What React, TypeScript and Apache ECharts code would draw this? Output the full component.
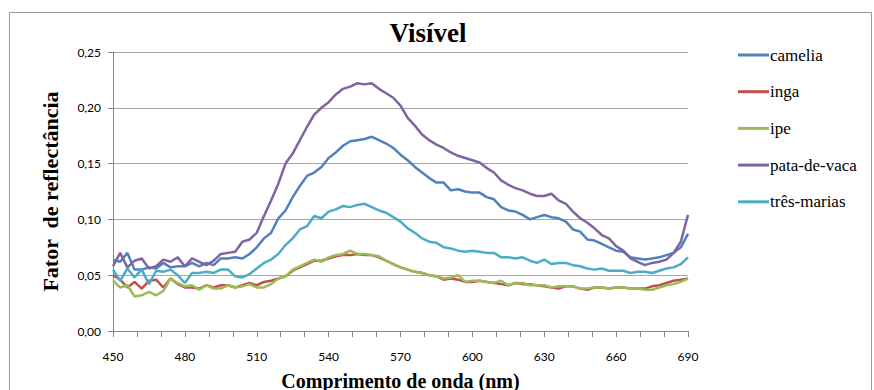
import React, { useEffect, useRef } from "react";
import * as echarts from "echarts";

const wavelengths: number[] = [];
for (let w = 450; w <= 690; w += 3) wavelengths.push(w);

const seriesNames = ["camelia", "inga", "ipe", "pata-de-vaca", "três-marias"];
const seriesColors = ["#4F81BD", "#C0504D", "#9BBB59", "#8064A2", "#4BACC6"];

const camelia = [
  0.064, 0.062, 0.070, 0.055, 0.055, 0.057, 0.056, 0.061, 0.057, 0.058,
  0.058, 0.061, 0.058, 0.061, 0.059, 0.065, 0.065, 0.066, 0.065, 0.069,
  0.075, 0.083, 0.088, 0.101, 0.108, 0.120, 0.130, 0.139, 0.142, 0.147,
  0.155, 0.160, 0.166, 0.170, 0.171, 0.172, 0.174, 0.171, 0.168, 0.164,
  0.158, 0.153, 0.147, 0.142, 0.137, 0.133, 0.133, 0.126, 0.127, 0.125,
  0.124, 0.124, 0.120, 0.118, 0.111, 0.108, 0.107, 0.104, 0.100, 0.102,
  0.104, 0.102, 0.101, 0.098, 0.091, 0.089, 0.082, 0.081, 0.078, 0.075,
  0.072, 0.071, 0.066, 0.065, 0.064, 0.065, 0.066, 0.068, 0.070, 0.075,
  0.087,
];

const inga = [
  0.050, 0.046, 0.039, 0.044, 0.038, 0.045, 0.046, 0.039, 0.047, 0.042,
  0.039, 0.039, 0.038, 0.041, 0.039, 0.041, 0.041, 0.039, 0.041, 0.043,
  0.041, 0.044, 0.045, 0.047, 0.049, 0.054, 0.057, 0.060, 0.063, 0.063,
  0.065, 0.067, 0.068, 0.068, 0.069, 0.068, 0.068, 0.066, 0.063, 0.060,
  0.057, 0.055, 0.053, 0.052, 0.050, 0.049, 0.046, 0.047, 0.046, 0.044,
  0.044, 0.045, 0.044, 0.043, 0.042, 0.041, 0.043, 0.042, 0.042, 0.041,
  0.040, 0.039, 0.038, 0.040, 0.040, 0.038, 0.037, 0.039, 0.039, 0.038,
  0.039, 0.039, 0.038, 0.038, 0.038, 0.040, 0.041, 0.043, 0.045, 0.046,
  0.047,
];

const ipe = [
  0.045, 0.039, 0.041, 0.031, 0.032, 0.035, 0.032, 0.036, 0.047, 0.043,
  0.040, 0.041, 0.037, 0.041, 0.038, 0.038, 0.041, 0.039, 0.040, 0.042,
  0.039, 0.039, 0.042, 0.047, 0.049, 0.055, 0.058, 0.061, 0.064, 0.062,
  0.066, 0.068, 0.069, 0.072, 0.069, 0.069, 0.068, 0.067, 0.063, 0.060,
  0.057, 0.055, 0.053, 0.052, 0.050, 0.049, 0.047, 0.048, 0.050, 0.044,
  0.045, 0.045, 0.044, 0.043, 0.045, 0.041, 0.043, 0.043, 0.041, 0.041,
  0.041, 0.039, 0.040, 0.040, 0.040, 0.038, 0.038, 0.039, 0.039, 0.038,
  0.039, 0.039, 0.038, 0.038, 0.037, 0.037, 0.039, 0.041, 0.042, 0.044,
  0.047,
];

const pataDeVaca = [
  0.058, 0.070, 0.057, 0.063, 0.065, 0.056, 0.058, 0.064, 0.062, 0.066,
  0.058, 0.065, 0.062, 0.059, 0.063, 0.069, 0.070, 0.071, 0.080, 0.082,
  0.088, 0.103, 0.117, 0.132, 0.150, 0.159, 0.171, 0.183, 0.194, 0.200,
  0.205, 0.212, 0.217, 0.219, 0.222, 0.221, 0.222, 0.217, 0.213, 0.209,
  0.202, 0.191, 0.184, 0.176, 0.171, 0.167, 0.164, 0.160, 0.157, 0.155,
  0.153, 0.151, 0.146, 0.142, 0.135, 0.131, 0.128, 0.126, 0.123, 0.121,
  0.121, 0.123, 0.117, 0.114, 0.107, 0.101, 0.097, 0.092, 0.086, 0.083,
  0.076, 0.072, 0.065, 0.062, 0.059, 0.061, 0.062, 0.064, 0.070, 0.080,
  0.104,
];

const tresMarias = [
  0.055, 0.045, 0.056, 0.048, 0.055, 0.042, 0.054, 0.053, 0.055, 0.050,
  0.043, 0.052, 0.052, 0.053, 0.052, 0.055, 0.055, 0.049, 0.048, 0.051,
  0.056, 0.061, 0.064, 0.069, 0.077, 0.083, 0.091, 0.094, 0.103, 0.101,
  0.107, 0.109, 0.112, 0.111, 0.113, 0.114, 0.111, 0.108, 0.106, 0.102,
  0.098, 0.092, 0.088, 0.083, 0.080, 0.079, 0.075, 0.074, 0.072, 0.071,
  0.072, 0.071, 0.070, 0.070, 0.066, 0.066, 0.065, 0.066, 0.063, 0.061,
  0.064, 0.060, 0.061, 0.061, 0.059, 0.058, 0.056, 0.055, 0.056, 0.054,
  0.054, 0.054, 0.052, 0.053, 0.053, 0.052, 0.054, 0.056, 0.057, 0.060,
  0.066,
];

const seriesValues = [camelia, inga, ipe, pataDeVaca, tresMarias];

const titleText = "Visível";
const yAxisTitle = "Fator  de reflectância";
const xAxisTitle = "Comprimento de onda (nm)";

const serif = "Liberation Serif";
const legendFont = "Times New Roman";

export default function App() {
  const ref = useRef<HTMLDivElement>(null);

  useEffect(() => {
    document.body.style.margin = "0";
    if (!ref.current) return;
    const chart = echarts.init(ref.current, null, { renderer: "svg" });
    const axisGray = "#868686";

    const legendTop = 55;
    const legendStep = 36.7;
    const legendLines = seriesNames.map((name, i) => ({
      type: "line",
      shape: {
        x1: 738,
        y1: legendTop + i * legendStep,
        x2: 769,
        y2: legendTop + i * legendStep,
      },
      style: { stroke: seriesColors[i], lineWidth: 3 },
    }));
    const legendTexts = seriesNames.map((name, i) => ({
      type: "text",
      x: 770,
      y: legendTop + i * legendStep,
      style: {
        text: name,
        font: "17px " + legendFont,
        fill: "#000",
        textAlign: "left",
        textVerticalAlign: "middle",
      },
    }));

    chart.setOption({
      animation: false,
      backgroundColor: "#ffffff",
      graphic: [
        {
          type: "rect",
          shape: { x: 9.5, y: 12.5, width: 862, height: 420 },
          style: { fill: "none", stroke: "#9a9a9a", lineWidth: 1 },
          silent: true,
        },
        {
          type: "text",
          x: 428,
          y: 33,
          style: {
            text: titleText,
            fontFamily: serif,
            fontWeight: "bold",
            fontSize: 27,
            fill: "#000",
            textAlign: "center",
            textVerticalAlign: "middle",
          },
        },
        ...legendLines,
        ...legendTexts,
      ],
      grid: {
        left: 113,
        right: 186,
        top: 52,
        bottom: 59,
        containLabel: false,
        outerBoundsMode: "none",
      },
      xAxis: {
        type: "value",
        min: 450,
        max: 690,
        interval: 30,
        name: xAxisTitle,
        nameLocation: "middle",
        nameGap: 40,
        nameTextStyle: {
          fontFamily: serif,
          fontWeight: "bold",
          fontSize: 20,
          color: "#000",
        },
        axisLine: { show: true, lineStyle: { color: axisGray, width: 1 } },
        axisTick: { show: true, inside: false, length: 6, lineStyle: { color: axisGray } },
        minorTick: { show: true, splitNumber: 3, length: 6, lineStyle: { color: axisGray } },
        splitLine: { show: false },
        axisLabel: {
          margin: 19,
          fontFamily: "Lato",
          fontSize: 12,
          color: "#000",
        },
      },
      yAxis: {
        type: "value",
        min: 0,
        max: 0.25,
        interval: 0.05,
        name: yAxisTitle,
        nameLocation: "middle",
        nameGap: 52,
        nameRotate: 90,
        nameTextStyle: {
          fontFamily: serif,
          fontWeight: "bold",
          fontSize: 22,
          color: "#000",
        },
        axisLine: { show: true, lineStyle: { color: axisGray, width: 1 } },
        axisTick: { show: true, inside: false, length: 5, lineStyle: { color: axisGray } },
        splitLine: { show: true, lineStyle: { color: "#a6a6a6", width: 1 } },
        axisLabel: {
          margin: 12,
          fontFamily: "Lato",
          fontSize: 12,
          color: "#000",
          formatter: (v: number) => v.toFixed(2).replace(".", ","),
        },
      },
      series: seriesNames.map((name, i) => ({
        name,
        type: "line",
        showSymbol: false,
        symbol: "none",
        color: seriesColors[i],
        lineStyle: { width: 2.5, color: seriesColors[i] },
        data: wavelengths.map((w, j) => [w, seriesValues[i][j]]),
      })),
    });
    return () => chart.dispose();
  }, []);

  return <div ref={ref} style={{ width: 874, height: 390 }} />;
}
